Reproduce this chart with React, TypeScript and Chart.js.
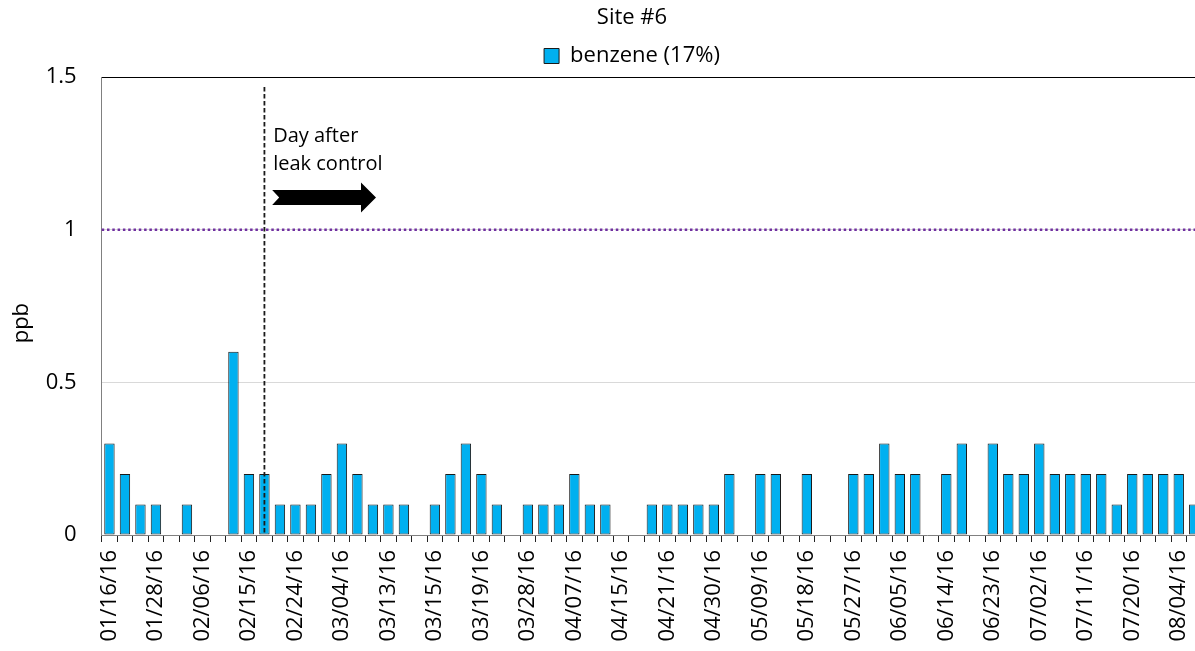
import React, { useEffect, useRef } from "react";
import { Chart, registerables } from "chart.js";

Chart.register(...registerables);

const TITLE = "Site #6";
const SERIES_NAME = "benzene (17%)";
const Y_TITLE = "ppb";
const TICK_LABELS = [
  "01/16/16", "01/28/16", "02/06/16", "02/15/16", "02/24/16", "03/04/16",
  "03/13/16", "03/15/16", "03/19/16", "03/28/16", "04/07/16", "04/15/16",
  "04/21/16", "04/30/16", "05/09/16", "05/18/16", "05/27/16", "06/05/16",
  "06/14/16", "06/23/16", "07/02/16", "07/11/16", "07/20/16", "08/04/16",
];
const LABEL_EVERY = 3;
// null = no bar drawn
const BENZENE = [
  0.3, 0.2, 0.1, 0.1, null, 0.1, null, null, 0.6, 0.2, 0.2, 0.1,
  0.1, 0.1, 0.2, 0.3, 0.2, 0.1, 0.1, 0.1, null, 0.1, 0.2, 0.3,
  0.2, 0.1, null, 0.1, 0.1, 0.1, 0.2, 0.1, 0.1, null, null, 0.1,
  0.1, 0.1, 0.1, 0.1, 0.2, null, 0.2, 0.2, null, 0.2, null, null,
  0.2, 0.2, 0.3, 0.2, 0.2, null, 0.2, 0.3, null, 0.3, 0.2, 0.2,
  0.3, 0.2, 0.2, 0.2, 0.2, 0.1, 0.2, 0.2, 0.2, 0.2, 0.1,
];
const Y_MIN = 0;
const Y_MAX = 1.5;
const Y_STEP = 0.5;
const THRESHOLD = 1;
const LEAK_CONTROL_INDEX = 10;
const NOTE_LINES = ["Day after", "leak control"];

const CATEGORIES = BENZENE.map((_, i) =>
  i % LABEL_EVERY === 0 ? TICK_LABELS[i / LABEL_EVERY] : ""
);

const FONT = '"Open Sans", "DejaVu Sans", sans-serif';

const annotationPlugin = {
  id: "leakAnnotations",
  afterDatasetsDraw(chart: any) {
    const { ctx, chartArea, scales } = chart;
    const x = scales.x;
    const y = scales.y;
    ctx.save();

    // threshold dotted line
    const ty = y.getPixelForValue(THRESHOLD);
    ctx.strokeStyle = "#7030A0";
    ctx.lineWidth = 2.5;
    ctx.setLineDash([2.5, 2.8]);
    ctx.beginPath();
    ctx.moveTo(chartArea.left, ty);
    ctx.lineTo(chartArea.right, ty);
    ctx.stroke();

    // vertical dashed marker
    const vx = x.getPixelForValue(LEAK_CONTROL_INDEX);
    ctx.strokeStyle = "#1a1a1a";
    ctx.lineWidth = 1.8;
    ctx.setLineDash([4.5, 2.5]);
    ctx.beginPath();
    ctx.moveTo(vx, y.getPixelForValue(1.467));
    ctx.lineTo(vx, chartArea.bottom);
    ctx.stroke();
    ctx.setLineDash([]);

    // note text
    const catW = x.getPixelForValue(1) - x.getPixelForValue(0);
    const tx = vx + catW / 2 + 1;
    ctx.fillStyle = "#000";
    ctx.font = `20px ${FONT}`;
    ctx.textAlign = "left";
    ctx.textBaseline = "alphabetic";
    ctx.fillText(NOTE_LINES[0], tx, y.getPixelForValue(1.286));
    ctx.fillText(NOTE_LINES[1], tx, y.getPixelForValue(1.194));

    // block arrow
    const x0 = vx + catW / 2;
    const x1 = x0 + catW * 6.7;
    const hs = x1 - 15;
    const yc = y.getPixelForValue(1.105);
    const bh = 7.5;
    const hh = 15;
    ctx.fillStyle = "#000";
    ctx.beginPath();
    ctx.moveTo(x0, yc - bh);
    ctx.lineTo(hs, yc - bh);
    ctx.lineTo(hs, yc - hh);
    ctx.lineTo(x1, yc);
    ctx.lineTo(hs, yc + hh);
    ctx.lineTo(hs, yc + bh);
    ctx.lineTo(x0, yc + bh);
    ctx.lineTo(x0 + 7, yc);
    ctx.closePath();
    ctx.fill();

    ctx.restore();
  },
};

export default function App() {
  const ref = useRef<HTMLCanvasElement | null>(null);

  useEffect(() => {
    if (!ref.current) return;
    const chart = new Chart(ref.current, {
      type: "bar",
      data: {
        labels: CATEGORIES,
        datasets: [
          {
            label: SERIES_NAME,
            data: BENZENE as any,
            backgroundColor: "#00B0F0",
            borderColor: "#1a1a1a",
            borderWidth: 1,
            borderSkipped: false,
            barPercentage: 0.67,
            categoryPercentage: 1,
          },
        ],
      },
      options: {
        responsive: false,
        animation: false,
        layout: { padding: { top: 2, right: 0, bottom: 0, left: 0 } },
        plugins: {
          title: {
            display: true,
            text: TITLE,
            color: "#000",
            font: { family: FONT, size: 22, weight: "normal" as any },
            padding: { top: 3, bottom: 7 },
          },
          legend: {
            display: true,
            position: "top",
            labels: {
              color: "#000",
              font: { family: FONT, size: 22 },
              boxWidth: 15,
              boxHeight: 15,
              padding: 6.6,
            },
          },
          tooltip: { enabled: false },
        },
        scales: {
          x: {
            offset: true,
            grid: {
              display: true,
              offset: true,
              drawOnChartArea: false,
              drawTicks: true,
              tickLength: 7,
              color: "#222",
            },
            border: { display: true, color: "#808080", width: 1 },
            ticks: {
              autoSkip: false,
              maxRotation: 90,
              minRotation: 90,
              padding: 8,
              color: "#000",
              font: { family: FONT, size: 22 },
            },
            afterFit(scale: any) {
              scale.height = 116;
            },
          },
          y: {
            min: Y_MIN,
            max: Y_MAX,
            ticks: {
              stepSize: Y_STEP,
              padding: 25,
              color: "#000",
              font: { family: FONT, size: 22 },
              callback: (v: any) => String(Number(v)),
            },
            grid: {
              drawTicks: false,
              color: (c: any) => (c.tick && c.tick.value === Y_MAX ? "#000" : "#d9d9d9"),
            },
            border: { display: true, color: "#808080", width: 1 },
            title: {
              display: true,
              text: Y_TITLE + "      ",
              color: "#000",
              font: { family: FONT, size: 22 },
              padding: { top: 9, bottom: 0 },
            },
            afterFit(scale: any) {
              scale.width = 101.7;
            },
          },
          spacer: {
            type: "linear",
            position: "right",
            display: true,
            grid: { display: false, drawTicks: false },
            border: { display: false },
            ticks: { display: false },
            afterFit(scale: any) {
              scale.width = 62;
            },
          },
        },
      },
      plugins: [annotationPlugin],
    });
    return () => chart.destroy();
  }, []);

  return (
    <div
      style={{
        position: "fixed",
        left: 0,
        top: 0,
        width: 1195,
        height: 651,
        overflow: "hidden",
        background: "#fff",
      }}
    >
      <canvas
        ref={ref}
        width={1264}
        height={651}
        style={{ display: "block", width: 1264, height: 651 }}
      />
    </div>
  );
}
